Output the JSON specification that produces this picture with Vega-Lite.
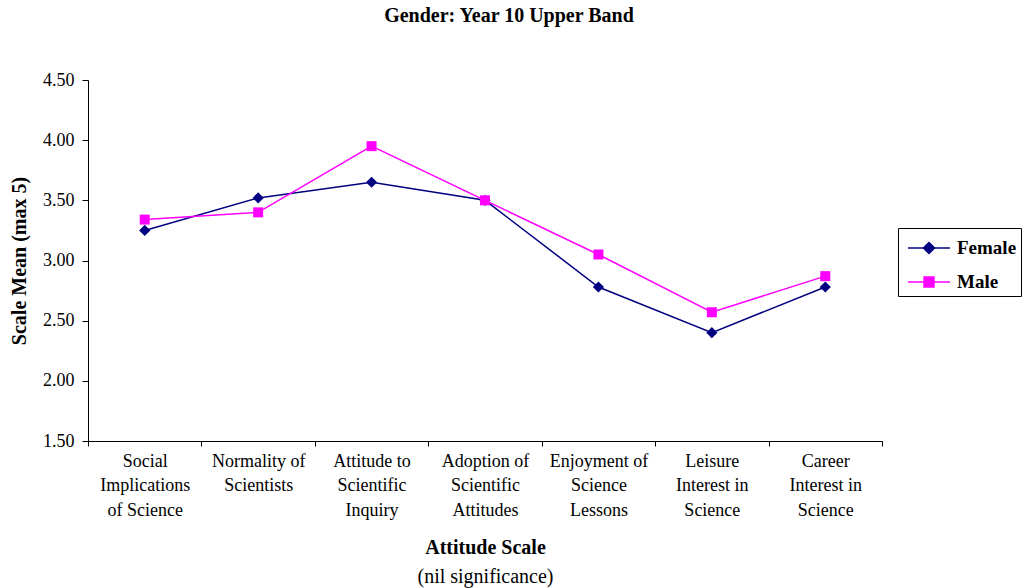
{
  "$schema": "https://vega.github.io/schema/vega-lite/v6.json",
  "autosize": "none",
  "width": 794,
  "height": 361,
  "padding": {"left": 88, "top": 80, "right": 142, "bottom": 147},
  "background": "white",
  "title": {"text": "Gender: Year 10 Upper Band", "font": "Liberation Serif", "fontSize": 20, "fontWeight": "bold", "color": "black", "anchor": "middle", "dx": 24, "offset": 45},
  "config": {
    "view": {"stroke": null},
    "axis": {"labelFont": "Liberation Serif", "titleFont": "Liberation Serif", "labelColor": "black", "titleColor": "black", "domainColor": "black", "tickColor": "black", "grid": false}
  },
  "data": {"values": [
    {"scale": "Social|Implications|of Science", "gender": "Female", "mean": 3.25},
    {"scale": "Normality of|Scientists", "gender": "Female", "mean": 3.52},
    {"scale": "Attitude to|Scientific|Inquiry", "gender": "Female", "mean": 3.65},
    {"scale": "Adoption of|Scientific|Attitudes", "gender": "Female", "mean": 3.50},
    {"scale": "Enjoyment of|Science|Lessons", "gender": "Female", "mean": 2.78},
    {"scale": "Leisure|Interest in|Science", "gender": "Female", "mean": 2.40},
    {"scale": "Career|Interest in|Science", "gender": "Female", "mean": 2.78},
    {"scale": "Social|Implications|of Science", "gender": "Male", "mean": 3.34},
    {"scale": "Normality of|Scientists", "gender": "Male", "mean": 3.40},
    {"scale": "Attitude to|Scientific|Inquiry", "gender": "Male", "mean": 3.95},
    {"scale": "Adoption of|Scientific|Attitudes", "gender": "Male", "mean": 3.50},
    {"scale": "Enjoyment of|Science|Lessons", "gender": "Male", "mean": 3.05},
    {"scale": "Leisure|Interest in|Science", "gender": "Male", "mean": 2.57},
    {"scale": "Career|Interest in|Science", "gender": "Male", "mean": 2.87}
  ]},
  "layer": [
    {
      "encoding": {
        "x": {"field": "scale", "type": "nominal", "sort": null,
              "scale": {"paddingInner": 0, "paddingOuter": 0},
              "axis": {"title": "Attitude Scale", "titleFontSize": 20, "titleFontWeight": "bold", "titlePadding": 18,
                       "labelExpr": "split(datum.label, '|')", "labelAngle": 0, "labelFontSize": 18, "labelLineHeight": 24.5,
                       "labelPadding": 15, "tickBand": "extent", "tickSize": 5, "labelBaseline": "middle"}},
        "y": {"field": "mean", "type": "quantitative",
              "scale": {"domain": [1.5, 4.5], "nice": false, "zero": false},
              "axis": {"title": "Scale Mean (max 5)", "titleFontSize": 20, "titleFontWeight": "bold", "titlePadding": 13,
                       "values": [1.5, 2, 2.5, 3, 3.5, 4, 4.5], "format": ".2f", "labelFontSize": 18, "tickSize": 6, "labelPadding": 8}},
        "color": {"field": "gender", "type": "nominal",
                  "scale": {"domain": ["Female", "Male"], "range": ["#000080", "#FF00FF"]},
                  "legend": {"title": null, "orient": "none", "legendX": 810, "legendY": 148,
                             "labelFont": "Liberation Serif", "labelFontSize": 19, "labelFontWeight": "bold", "labelColor": "black",
                             "strokeColor": "black", "fillColor": "white", "padding": 4, "symbolSize": 900, "symbolOffset": 11,
                             "labelOffset": 12, "rowPadding": 8,
                             "encode": {"symbols": {"update": {
                               "shape": {"signal": "datum.value === 'Female' ? 'M-1.4,0H1.4M0,-0.37L0.37,0L0,0.37L-0.37,0Z' : 'M-1.4,0H1.4M-0.33,-0.33H0.33V0.33H-0.33Z'"},
                               "fill": {"scale": "color", "field": "value"},
                               "stroke": {"scale": "color", "field": "value"},
                               "strokeWidth": {"value": 1.5},
                               "opacity": {"value": 1},
                               "size": {"value": 900}}}}}}
      },
      "layer": [
        {"mark": {"type": "line", "strokeWidth": 1.5}},
        {"transform": [{"filter": "datum.gender === 'Female'"}],
         "mark": {"type": "point", "filled": true, "opacity": 1, "size": 125, "shape": "diamond"}},
        {"transform": [{"filter": "datum.gender === 'Male'"}],
         "mark": {"type": "point", "filled": true, "opacity": 1, "size": 100, "shape": "square"}}
      ]
    },
    {
      "mark": {"type": "point", "opacity": 0},
      "encoding": {
        "x": {"field": "scale", "type": "nominal", "sort": null,
              "scale": {"paddingInner": 0, "paddingOuter": 0},
              "axis": {"orient": "bottom", "title": "(nil significance)", "titleFontSize": 20, "titleFontWeight": "normal",
                       "labels": false, "ticks": false, "domain": false, "titlePadding": 125}},
        "y": {"field": "mean", "type": "quantitative"}
      }
    }
  ],
  "resolve": {"scale": {"x": "independent"}, "axis": {"x": "independent"}}
}
